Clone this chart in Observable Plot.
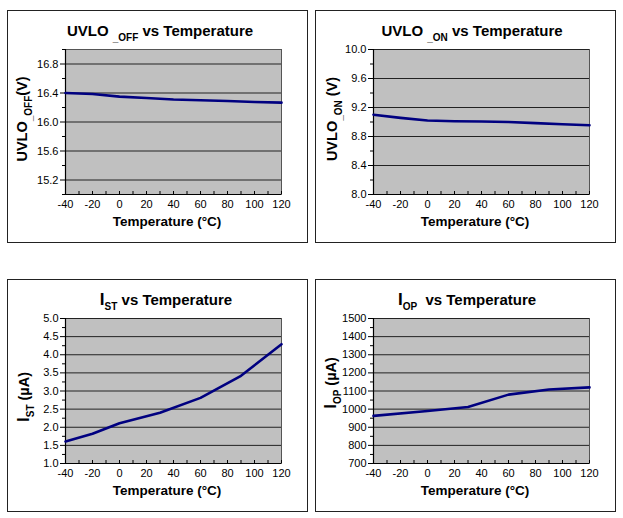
<!DOCTYPE html>
<html>
<head>
<meta charset="utf-8">
<script src="https://cdn.jsdelivr.net/npm/d3@7"></script>
<script src="https://cdn.jsdelivr.net/npm/@observablehq/plot@0.6"></script>
<style>
  body { margin: 0; background: #fff; }
  #root { position: relative; width: 623px; height: 518px; overflow: hidden; font-family: "Liberation Sans", Arial, sans-serif; color: #000; }
  .box { position: absolute; border: 1px solid #222; box-sizing: border-box; }
  .plot { position: absolute; }
  .title { position: absolute; font-weight: bold; font-size: 15px; line-height: 15px; white-space: nowrap; transform: translateX(-50%); }
  .xt { position: absolute; font-weight: bold; font-size: 13.5px; line-height: 14px; white-space: nowrap; transform: translateX(-50%); }
  .yl { position: absolute; font-weight: bold; font-size: 14.5px; line-height: 15px; white-space: nowrap; transform: translate(-50%, -50%) rotate(-90deg); }
  .sub { font-size: 10px; position: relative; top: 5px; }
  .big { font-size: 17px; }
</style>
</head>
<body>
<div id="root"></div>
<script>
// ---- data ----
const uvloOffTemp = [-40, -20, 0, 20, 40, 60, 80, 100, 120];
const uvloOffVal  = [16.40, 16.386, 16.35, 16.33, 16.31, 16.30, 16.29, 16.276, 16.267];

const uvloOnTemp = [-40, -20, 0, 20, 40, 60, 80, 100, 120];
const uvloOnVal  = [9.10, 9.057, 9.02, 9.01, 9.007, 9.00, 8.985, 8.97, 8.956];

const istTemp = [-40, -20, 0, 30, 60, 90, 120];
const istVal  = [1.61, 1.82, 2.11, 2.40, 2.81, 3.42, 4.29];

const iopTemp = [-40, 0, 30, 60, 90, 120];
const iopVal  = [963, 990, 1012, 1080, 1108, 1120];

const xTicks = [-40, -20, 0, 20, 40, 60, 80, 100, 120];
const xMinor = d3.range(-40, 121, 10);

const uvloOffTicks = [15.2, 15.6, 16.0, 16.4, 16.8];
const uvloOffMinor = [15.0, 15.4, 15.8, 16.2, 16.6, 17.0];
const uvloOnTicks = [8.0, 8.4, 8.8, 9.2, 9.6, 10.0];
const uvloOnMinor = [8.2, 8.6, 9.0, 9.4, 9.8];
const istTicks = [1.0, 1.5, 2.0, 2.5, 3.0, 3.5, 4.0, 4.5, 5.0];
const istMinor = [1.25, 1.75, 2.25, 2.75, 3.25, 3.75, 4.25, 4.75];
const iopTicks = [700, 800, 900, 1000, 1100, 1200, 1300, 1400, 1500];
const iopMinor = [750, 850, 950, 1050, 1150, 1250, 1350, 1450];

// ---- layout ----
const panels = [
  { left: 7,   top: 10,  t: uvloOffTemp, v: uvloOffVal, dom: [15.0, 17.0], ticks: uvloOffTicks, minor: uvloOffMinor, fmt: d3.format(".1f"),
    title: 'UVLO <span class="sub">_OFF</span> vs Temperature', tcx: 160,
    ylab: 'UVLO<span class="sub">_OFF</span>(V)', ycx: 23, ycy: 119 },
  { left: 315, top: 10,  t: uvloOnTemp, v: uvloOnVal, dom: [8.0, 10.0], ticks: uvloOnTicks, minor: uvloOnMinor, fmt: d3.format(".1f"),
    title: 'UVLO <span class="sub">_ON</span> vs Temperature', tcx: 472,
    ylab: 'UVLO<span class="sub">_ON</span> (V)', ycx: 333, ycy: 119 },
  { left: 7,   top: 279, t: istTemp, v: istVal, dom: [1.0, 5.0], ticks: istTicks, minor: istMinor, fmt: d3.format(".1f"),
    title: '<span class="big">I</span><span class="sub">ST</span> vs Temperature', tcx: 166,
    ylab: '<span class="big">I</span><span class="sub">ST</span> (µA)', ycx: 24, ycy: 397 },
  { left: 315, top: 279, t: iopTemp, v: iopVal, dom: [700, 1500], ticks: iopTicks, minor: iopMinor, fmt: d => String(d),
    title: '<span class="big">I</span><span class="sub">OP</span>&nbsp;&nbsp;vs Temperature', tcx: 467,
    ylab: '<span class="big">I</span><span class="sub">OP</span> (µA)', ycx: 331, ycy: 383 }
];

const root = document.getElementById("root");
const W = 300, H = 232;

for (const p of panels) {
  const box = document.createElement("div");
  box.className = "box";
  box.style.left = p.left + "px";
  box.style.top = p.top + "px";
  box.style.width = "301px";
  box.style.height = "233px";
  root.appendChild(box);

  const data = p.t.map((t, i) => ({ t, v: p.v[i] }));
  const chart = Plot.plot({
    width: W, height: H,
    marginLeft: 58, marginRight: 26, marginTop: 39, marginBottom: 48,
    style: { fontFamily: '"Liberation Sans", Arial, sans-serif', fontSize: "11px", color: "#000", background: "transparent" },
    x: { domain: [-40, 120], label: null },
    y: { domain: p.dom, label: null },
    marks: [
      Plot.frame({ fill: "#c0c0c0", stroke: "#555" }),
      Plot.ruleY(p.ticks, { stroke: "#222", strokeWidth: 1 }),
      Plot.axisY({ ticks: p.minor, tickSize: 3, tickFormat: () => "", label: null }),
      Plot.axisY({ ticks: p.ticks, tickSize: 5, tickPadding: 2, tickFormat: p.fmt, label: null }),
      Plot.axisX({ ticks: xMinor, tickSize: -3, tickFormat: () => "", label: null }),
      Plot.axisX({ ticks: xTicks, tickSize: 0, tickPadding: 6, tickFormat: d => String(d), label: null }),
      Plot.ruleX([-40], { stroke: "#000", strokeWidth: 1.2 }),
      Plot.ruleY([p.dom[0]], { stroke: "#000", strokeWidth: 1.2 }),
      Plot.line(data, { x: "t", y: "v", stroke: "#000080", strokeWidth: 2.6 })
    ]
  });
  chart.classList.add("plot");
  chart.style.left = p.left + "px";
  chart.style.top = p.top + "px";
  root.appendChild(chart);

  const title = document.createElement("div");
  title.className = "title";
  title.innerHTML = p.title;
  title.style.left = p.tcx + "px";
  title.style.top = (p.top + 13) + "px";
  root.appendChild(title);

  const xt = document.createElement("div");
  xt.className = "xt";
  xt.innerHTML = "Temperature (°C)";
  xt.style.left = (p.left + 160) + "px";
  xt.style.top = (p.top + 205) + "px";
  root.appendChild(xt);

  const yl = document.createElement("div");
  yl.className = "yl";
  yl.innerHTML = p.ylab;
  yl.style.left = p.ycx + "px";
  yl.style.top = p.ycy + "px";
  root.appendChild(yl);
}
</script>
</body>
</html>
